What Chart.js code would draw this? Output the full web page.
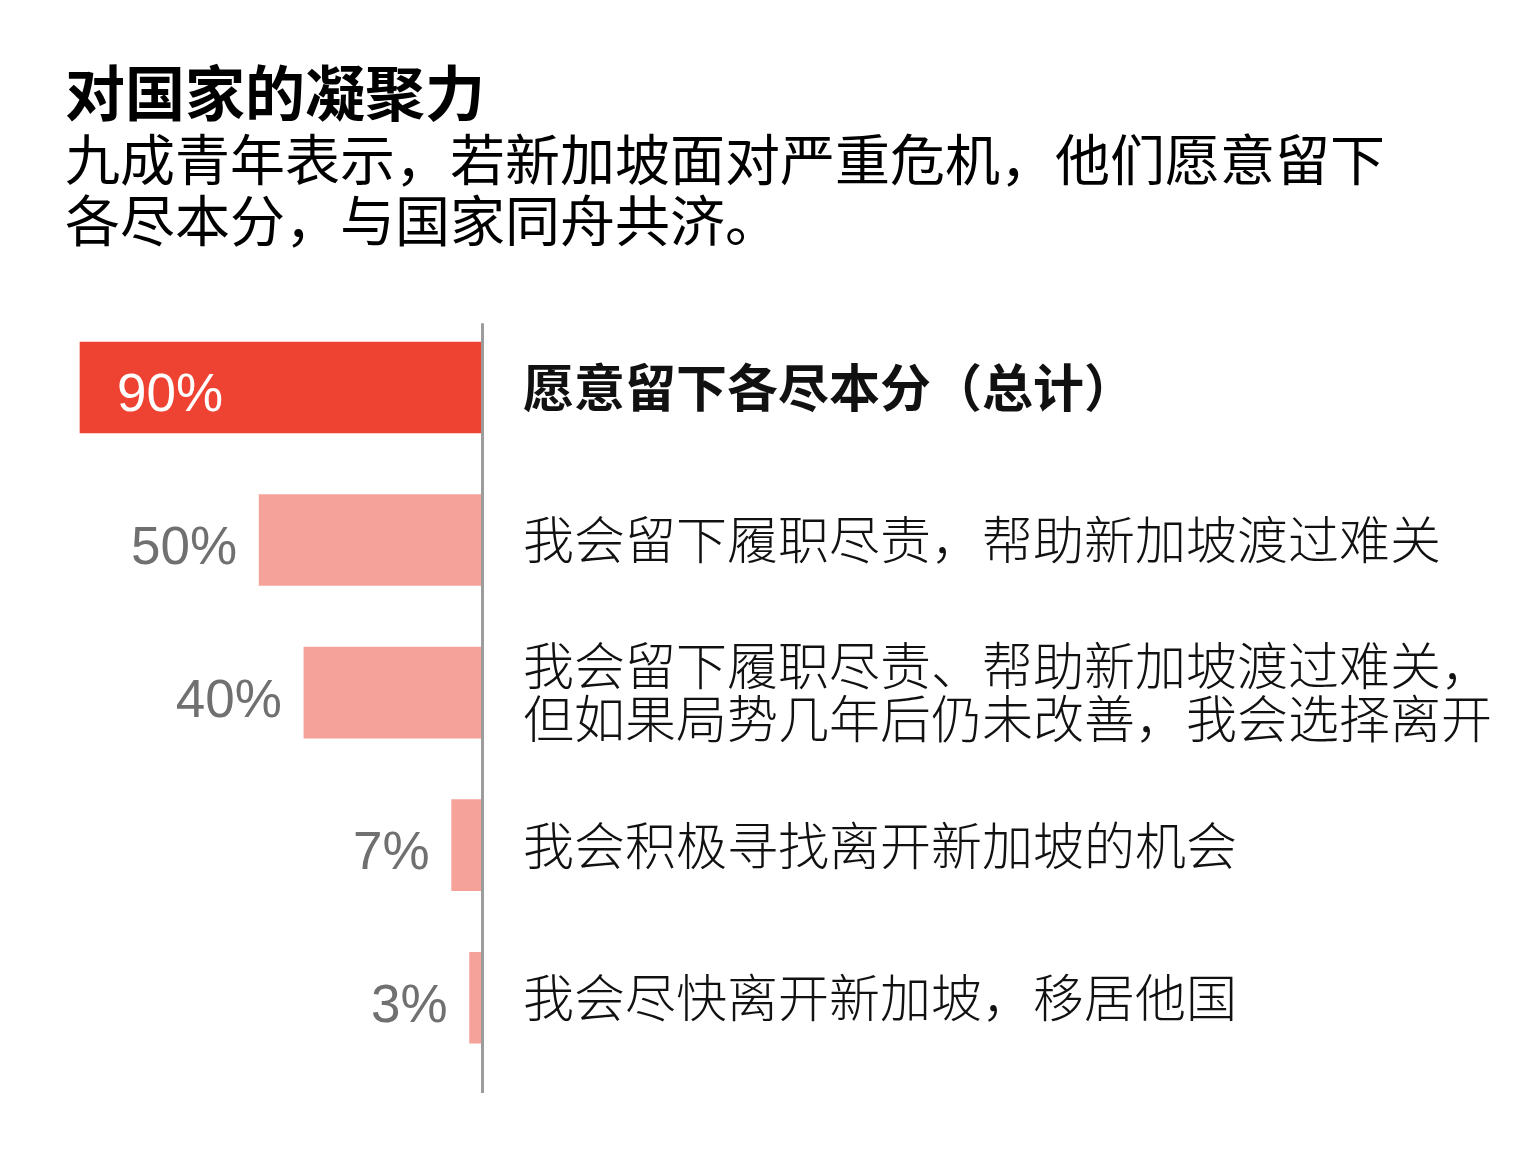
<!DOCTYPE html>
<html>
<head>
<meta charset="utf-8">
<title>对国家的凝聚力</title>
<script src="https://cdn.jsdelivr.net/npm/chart.js@4/dist/chart.umd.min.js"></script>
<style>
  html, body { margin: 0; padding: 0; background: #fff; }
  #wrap { width: 1536px; height: 1173px; position: relative; }
</style>
</head>
<body>
<div id="wrap"><canvas id="myChart"></canvas></div>
<script>
// data
const categories = [
  '愿意留下各尽本分（总计）',
  '我会留下履职尽责，帮助新加坡渡过难关',
  ['我会留下履职尽责、帮助新加坡渡过难关，', '但如果局势几年后仍未改善，我会选择离开'],
  '我会积极寻找离开新加坡的机会',
  '我会尽快离开新加坡，移居他国'
];
const values = [90, 50, 40, 7, 3];
const valueLabels = ['90%', '50%', '40%', '7%', '3%'];
const titleText = '对国家的凝聚力';
const subtitleLines = [
  '九成青年表示，若新加坡面对严重危机，他们愿意留下',
  '各尽本分，与国家同舟共济。'
];

const cjk = '"Noto Sans CJK SC", "Noto Sans", sans-serif';
const num = '"Liberation Sans", Arial, sans-serif';
const red = '#EE4232';
const pink = '#F5A29B';

// value labels: first one sits inside the bar, the rest to the left of it
const valueLabelPlugin = {
  id: 'valueLabels',
  afterDatasetsDraw(chart) {
    const ctx = chart.ctx;
    const meta = chart.getDatasetMeta(0);
    ctx.save();
    ctx.font = '53px ' + num;
    ctx.textBaseline = 'alphabetic';
    meta.data.forEach((bar, i) => {
      const left = Math.min(bar.x, bar.base);
      if (i === 0) {
        ctx.fillStyle = '#fff';
        ctx.textAlign = 'left';
        ctx.fillText(valueLabels[i], left + 37, bar.y + 24);
      } else {
        ctx.fillStyle = '#707070';
        ctx.textAlign = 'right';
        ctx.fillText(valueLabels[i], left - 22, bar.y + 24);
      }
    });
    ctx.restore();
  }
};

// grey vertical axis line, runs a little past the bars
const axisLinePlugin = {
  id: 'axisLine',
  afterDatasetsDraw(chart) {
    const a = chart.chartArea;
    const ctx = chart.ctx;
    ctx.save();
    ctx.strokeStyle = '#9c9c9c';
    ctx.lineWidth = 3;
    ctx.beginPath();
    ctx.moveTo(a.right - 0.5, a.top + 12);
    ctx.lineTo(a.right - 0.5, a.bottom + 19);
    ctx.stroke();
    ctx.restore();
  }
};

const data = {
  labels: categories,
  datasets: [{
    data: values,
    backgroundColor: ctx => ctx.dataIndex === 0 ? red : pink,
    borderWidth: 0,
    barThickness: 91
  }]
};

const config = {
  type: 'bar',
  data: data,
  options: {
    indexAxis: 'y',
    responsive: true,
    maintainAspectRatio: false,
    animation: false,
    layout: { padding: { left: 65, right: 0, top: 60, bottom: 99 } },
    scales: {
      x: {
        display: false,
        reverse: true,
        min: 0,
        max: 93.35
      },
      y: {
        position: 'right',
        grid: { display: false, drawTicks: false },
        border: { display: false },
        afterFit: scale => { scale.width = 1053; },
        ticks: {
          padding: 40,
          color: '#111',
          font: c => ({
            family: cjk,
            size: 51,
            weight: c.index === 0 ? 'bold' : 300,
            lineHeight: 1.04
          })
        }
      }
    },
    plugins: {
      legend: { display: false },
      tooltip: { enabled: false },
      title: {
        display: true,
        text: titleText,
        align: 'start',
        color: '#000',
        font: { family: cjk, size: 60, weight: 'bold', lineHeight: 1.1 },
        padding: { top: 0, bottom: 2 }
      },
      subtitle: {
        display: true,
        text: subtitleLines,
        align: 'start',
        color: '#000',
        font: { family: cjk, size: 55, weight: 'normal', lineHeight: 1.12 },
        padding: { top: 0, bottom: 60 }
      }
    }
  },
  plugins: [valueLabelPlugin, axisLinePlugin]
};

const myChart = new Chart(document.getElementById('myChart'), config);
</script>
</body>
</html>
